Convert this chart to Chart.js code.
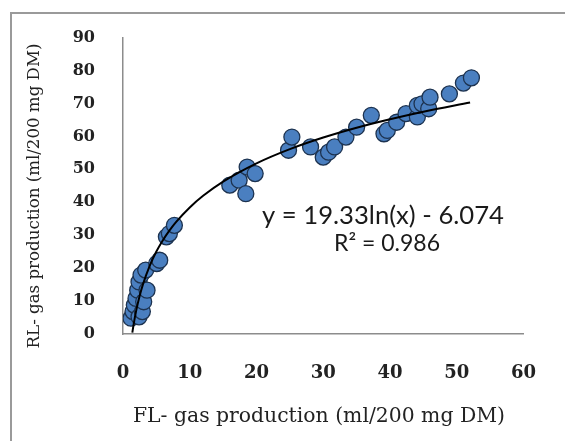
<!DOCTYPE html>
<html>
<head>
<meta charset="utf-8">
<script src="https://cdn.jsdelivr.net/npm/chart.js@4.4.0/dist/chart.umd.min.js"></script>
<style>
  html, body { margin: 0; padding: 0; background: #fff; }
  #wrap { width: 565px; height: 441px; }
</style>
</head>
<body>
<div id="wrap"><canvas id="scatterChart" width="565" height="441"></canvas></div>
<script>
// FL vs RL gas production
const flGas = [1.2, 1.5, 1.7, 1.95, 2.2, 2.4, 2.4, 2.7, 2.9, 3.1, 3.4, 3.6, 5.05, 5.5, 6.5, 6.95, 7.7,
  16.0, 17.4, 18.4, 18.6, 19.8, 24.8, 25.3, 28.1, 30.0, 30.8, 31.7, 33.4, 35.0, 37.2, 39.1, 39.6,
  41.0, 42.4, 44.1, 44.1, 44.8, 45.8, 46.0, 48.9, 51.0, 52.2];
const rlGas = [4.8, 6.8, 8.8, 10.8, 13.3, 15.8, 5.2, 17.9, 6.8, 9.8, 19.4, 13.3, 21.4, 22.4, 29.5, 30.5, 33.0,
  45.2, 46.7, 42.6, 50.7, 48.7, 55.8, 59.8, 56.8, 53.7, 55.2, 56.8, 59.8, 62.8, 66.4, 60.8, 61.8,
  64.3, 66.9, 65.9, 69.4, 69.9, 68.4, 71.9, 72.9, 76.2, 77.8];

// log trendline as drawn (y = 19.33ln(x) - 6.074)
const trendX = [1.4, 1.6, 2, 2.5, 3, 4, 5, 6, 7, 8, 10, 12, 15, 20, 25, 30, 35, 40, 45, 52];
const trendY = [0.43, 3.01, 7.32, 11.64, 15.16, 20.72, 25.04, 28.56, 31.54, 34.12, 38.43, 41.96, 46.27,
  51.83, 56.15, 59.67, 62.65, 65.23, 67.51, 70.30];

const xTicks = [0, 10, 20, 30, 40, 50, 60];
const yTicks = [0, 10, 20, 30, 40, 50, 60, 70, 80, 90];
const eqText = 'y = 19.33ln(x) - 6.074';
const r2Text = 'R\u00b2 = 0.986';
const xTitle = 'FL- gas production (ml/200 mg DM)';
const yTitle = 'RL- gas production (ml/200 mg DM)';

function fitFont(ctx, text, weight, family, width) {
  ctx.font = weight + ' 20px ' + family;
  const size = 20 * width / ctx.measureText(text).width;
  ctx.font = weight + ' ' + size.toFixed(2) + 'px ' + family;
}

const decor = {
  id: 'decor',
  beforeDraw(chart) {
    const ctx = chart.ctx;
    ctx.save();
    ctx.fillStyle = '#fff';
    ctx.fillRect(0, 0, chart.width, chart.height);
    ctx.strokeStyle = '#9a9a9a';
    ctx.lineWidth = 2;
    ctx.beginPath();
    ctx.moveTo(11, 441);
    ctx.lineTo(11, 13);
    ctx.lineTo(565, 13);
    ctx.stroke();
    ctx.restore();
  },
  afterDraw(chart) {
    const ctx = chart.ctx;
    ctx.save();
    ctx.fillStyle = '#222';
    ctx.textAlign = 'center';
    ctx.textBaseline = 'middle';
    fitFont(ctx, xTitle, 'normal', '"DejaVu Serif"', 372);
    ctx.fillText(xTitle, 319, 417);
    ctx.translate(35, 196);
    ctx.rotate(-Math.PI / 2);
    fitFont(ctx, yTitle, 'normal', '"DejaVu Serif"', 305);
    ctx.fillText(yTitle, 0, 0);
    ctx.restore();

    ctx.save();
    ctx.fillStyle = '#1a1a1a';
    ctx.textAlign = 'center';
    ctx.textBaseline = 'middle';
    fitFont(ctx, eqText, 'normal', 'Lato', 242);
    ctx.fillText(eqText, 383, 216);
    fitFont(ctx, r2Text, 'normal', 'Lato', 106);
    ctx.fillText(r2Text, 387, 244);
    ctx.restore();
  }
};

const ctx = document.getElementById('scatterChart').getContext('2d');
new Chart(ctx, {
  type: 'scatter',
  data: {
    datasets: [{
      label: 'trend',
      type: 'line',
      data: trendX.map((x, i) => ({ x: x, y: trendY[i] })),
      borderColor: '#000',
      borderWidth: 2,
      pointRadius: 0,
      fill: false,
      cubicInterpolationMode: 'monotone',
      order: 0
    }, {
      label: 'RL vs FL',
      data: flGas.map((x, i) => ({ x: x, y: rlGas[i] })),
      backgroundColor: '#4a7fc0',
      borderColor: '#1d3350',
      borderWidth: 1.3,
      pointRadius: 8,
      order: 1
    }]
  },
  options: {
    responsive: false,
    animation: false,
    devicePixelRatio: 1,
    layout: { padding: { left: 0, top: 37, right: 22, bottom: 0 } },
    plugins: { legend: { display: false }, tooltip: { enabled: false } },
    scales: {
      x: {
        type: 'linear',
        min: 0, max: 60,
        afterBuildTicks: s => { s.ticks = xTicks.map(v => ({ value: v })); },
        afterFit: s => { s.height = 107; },
        grid: { display: false, drawTicks: false },
        border: { display: true, color: '#8c8c8c', width: 1.5 },
        ticks: { padding: 29, color: '#222', font: { family: '"DejaVu Serif"', weight: 'bold', size: 18 } }
      },
      y: {
        type: 'linear',
        min: 0, max: 90,
        afterBuildTicks: s => { s.ticks = yTicks.map(v => ({ value: v })); },
        afterFit: s => { s.width = 123; },
        grid: { display: false, drawTicks: false },
        border: { display: true, color: '#8c8c8c', width: 1.5 },
        ticks: { padding: 28, color: '#222', font: { family: '"DejaVu Serif"', weight: 'bold', size: 16 } }
      }
    }
  },
  plugins: [decor]
});
</script>
</body>
</html>
